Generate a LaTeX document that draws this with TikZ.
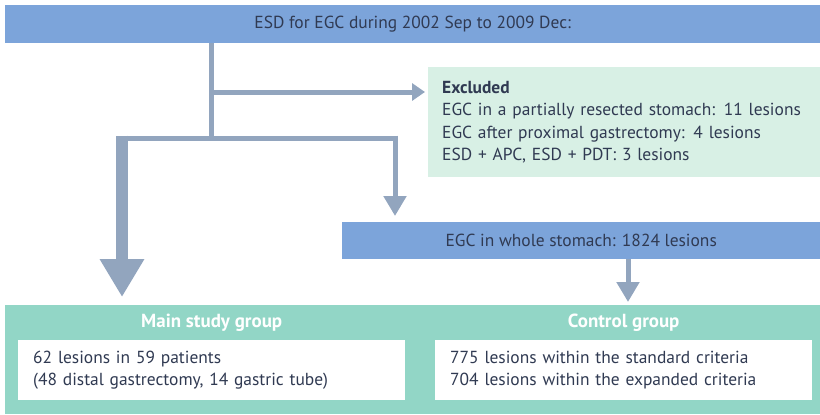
\documentclass[tikz,border=0pt]{standalone}
\usepackage{fontspec}
\setmainfont{PT Sans}
\usepackage{xcolor}
\usetikzlibrary{arrows.meta,positioning,calc}

\definecolor{barblue}{RGB}{124,164,218}
\definecolor{flowgray}{RGB}{146,165,190}
\definecolor{exclgreen}{RGB}{216,240,229}
\definecolor{groupgreen}{RGB}{146,214,198}
\definecolor{inkblue}{RGB}{48,58,82}

\begin{document}
\begin{tikzpicture}[x=1bp, y=-1bp, font=\fontsize{17.5}{22.5}\selectfont, text=inkblue]
  % ------- styles -------
  \tikzstyle{bar}=[fill=barblue, anchor=north west, inner sep=0pt]
  \tikzstyle{exclbox}=[fill=exclgreen, anchor=north west, inner xsep=14pt, inner ysep=0pt, align=left]
  \tikzstyle{groupbox}=[fill=groupgreen, anchor=north west, inner sep=0pt]
  \tikzstyle{heading}=[text=white, font=\fontsize{19}{22}\selectfont\bfseries]
  \tikzstyle{result}=[fill=white, anchor=north west, inner xsep=15pt, inner ysep=0pt, align=left]
  \tikzstyle{flow}=[draw=flowgray, line width=5bp]
  \tikzstyle{smallarrow}=[flow, -{Triangle[width=17bp, length=13bp]}]
  \tikzstyle{midarrow}=[flow, -{Triangle[width=22bp, length=20bp]}]
  \tikzstyle{bigarrow}=[flow, line width=12bp, -{Triangle[width=42bp, length=38bp]}]

  \useasboundingbox (0,0) rectangle (820,414);

  % ------- nodes -------
  \node[bar, minimum width=815bp, minimum height=38bp] (top) at (5,5) {ESD for EGC during 2002 Sep to 2009 Dec:};
  \node[exclbox, minimum width=392bp, minimum height=110bp, text width=364bp] (excl) at (428,67)
    {\textbf{Excluded}\\EGC in a partially resected stomach: 11 lesions\\EGC after proximal gastrectomy: 4 lesions\\ESD + APC, ESD + PDT: 3 lesions};
  \node[bar, minimum width=478bp, minimum height=37bp] (whole) at (342,222) {EGC in whole stomach: 1824 lesions};

  \node[groupbox, minimum width=815bp, minimum height=109bp] (groups) at (5,305) {};
  \node[result, minimum width=387bp, minimum height=60bp, text width=357bp] (main) at (18,340)
    {62 lesions in 59 patients\\(48 distal gastrectomy, 14 gastric tube)};
  \node[result, minimum width=377bp, minimum height=60bp, text width=347bp] (ctrl) at (435,340)
    {775 lesions within the standard criteria\\704 lesions within the expanded criteria};
  \node[heading] (mainhead) at ($(main.north)+(0,-17)$) {Main study group};
  \node[heading] (ctrlhead) at ($(ctrl.north)+(0,-17)$) {Control group};

  % ------- arrows -------
  \coordinate (exjoin) at (211,92);
  \coordinate (split) at (211,138);
  \coordinate (lcorner) at (122,138);
  \coordinate (rcorner) at (395,138);
  \coordinate (cdrop) at (628,259);

  \draw[flow] (top.south -| split) -- ($(split)+(0,2.5)$);
  \draw[smallarrow] (exjoin) -- ($(exjoin -| excl.west)+(-3,0)$);
  \draw[flow] ($(lcorner)+(-6,0)$) -- ($(rcorner)+(2.5,0)$);
  \draw[bigarrow] ($(lcorner)+(0,-2.5)$) -- ($(lcorner |- groups.north)+(0,-8)$);
  \draw[midarrow] ($(rcorner)+(0,-2.5)$) -- ($(rcorner |- whole.north)+(0,-6)$);
  \draw[midarrow] (whole.south -| cdrop) -- ($(cdrop |- groups.north)+(0,-3)$);
\end{tikzpicture}
\end{document}
